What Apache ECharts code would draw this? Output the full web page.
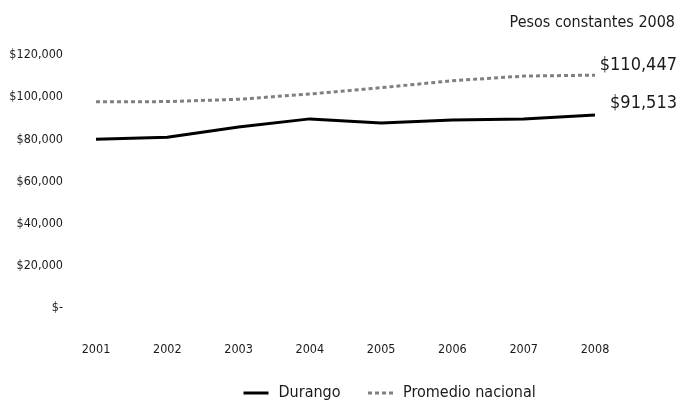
<!DOCTYPE html>
<html>
<head>
<meta charset="utf-8">
<script src="https://cdn.jsdelivr.net/npm/echarts@6/dist/echarts.min.js"></script>
<style>html,body{margin:0;padding:0;background:#fff}#c{width:680px;height:400px}</style>
</head>
<body>
<div id="c"></div>
<script>
var years = ['2001','2002','2003','2004','2005','2006','2007','2008'];
var durango = [80000, 81000, 85800, 89700, 87700, 89200, 89600, 91513];
var promedio = [97800, 97900, 99000, 101500, 104500, 107800, 110000, 110447];
var seriesNames = ['Durango', 'Promedio nacional'];
var yTickLabels = ['$-', '$20,000', '$40,000', '$60,000', '$80,000', '$100,000', '$120,000'];
var unitsNote = 'Pesos constantes 2008';

var FONT = "'DejaVu Sans Condensed', 'Liberation Sans Narrow', sans-serif";
function money(v){ return '$' + Math.round(v).toLocaleString('en-US'); }

var chart = echarts.init(document.getElementById('c'), null, {renderer:'canvas'});
chart.setOption({
  animation: false,
  backgroundColor: '#fff',
  textStyle: {fontFamily: FONT},
  title: {
    text: unitsNote, right: 0, top: 10,
    textStyle: {fontFamily: FONT, fontSize: 16, fontWeight: 'normal', color: '#1a1a1a'}
  },
  legend: {
    left: 237, top: 380,
    itemWidth: 25, itemHeight: 12, itemGap: 26,
    itemStyle: {opacity: 0},
    lineStyle: {width: 3},
    textStyle: {fontFamily: FONT, fontSize: 16, color: '#1a1a1a', padding: [0,0,0,5]},
    data: seriesNames
  },
  grid: {left: 96, right: 85, top: 55, bottom: 92, containLabel: false},
  xAxis: {
    type: 'category', data: years, boundaryGap: false,
    axisLine: {show: false}, axisTick: {show: false}, splitLine: {show: false},
    axisLabel: {margin: 35, fontFamily: FONT, fontSize: 12.5, color: '#1a1a1a'}
  },
  yAxis: {
    type: 'value', min: 0, max: 120000, interval: 20000,
    axisLine: {show: false}, axisTick: {show: false}, splitLine: {show: false},
    axisLabel: {margin: 33, fontFamily: FONT, fontSize: 12.5, color: '#1a1a1a',
      formatter: function(v){ return yTickLabels[Math.round(v/20000)]; }}
  },
  series: [
    {
      name: seriesNames[0], type: 'line', data: durango, symbol: 'none',
      lineStyle: {color: '#000', width: 3},
      itemStyle: {color: '#000'},
      endLabel: {show: true, formatter: function(p){ return money(p.value); },
        fontFamily: FONT, fontSize: 18, color: '#1a1a1a', align: 'right', distance: 82, offset: [0, -12]}
    },
    {
      name: seriesNames[1], type: 'line', data: promedio, symbol: 'none',
      lineStyle: {color: '#808080', width: 3, type: [4, 3]},
      itemStyle: {color: '#808080'},
      endLabel: {show: true, formatter: function(p){ return money(p.value); },
        fontFamily: FONT, fontSize: 18, color: '#1a1a1a', align: 'right', distance: 82, offset: [0, -10]}
    }
  ]
});
</script>
</body>
</html>
